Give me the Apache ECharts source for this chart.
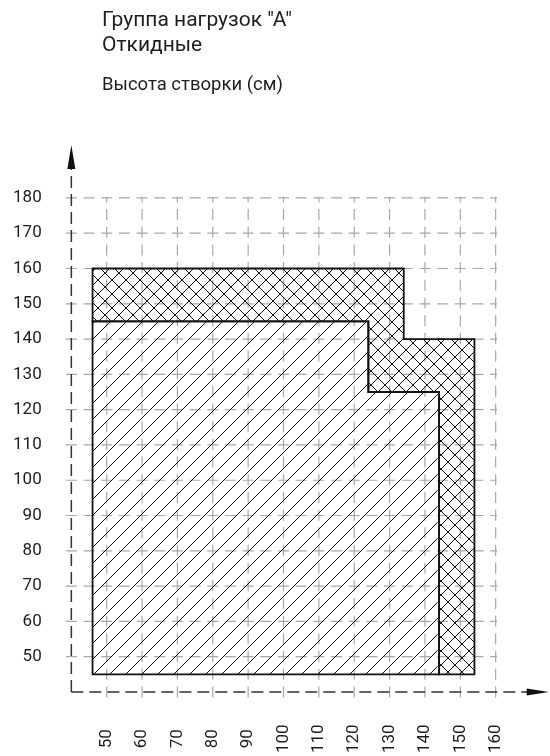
<!DOCTYPE html>
<html><head><meta charset="utf-8">
<script src="https://cdn.jsdelivr.net/npm/echarts@6/dist/echarts.min.js"></script>
<style>html,body{margin:0;padding:0;background:#fff}#c{width:550px;height:756px}</style>
</head><body><div id="c"></div>
<script>
// ---- data ----
const titleLines = ['Группа нагрузок "A"', 'Откидные'];
const yAxisName = 'Высота створки (см)';
const xTicks = [50, 60, 70, 80, 90, 100, 110, 120, 130, 140, 150, 160];
const yTicks = [50, 60, 70, 80, 90, 100, 110, 120, 130, 140, 150, 160, 170, 180];
// hatched region (///) vertices
const hatchX = [46, 46, 124, 124, 144, 144];
const hatchY = [45, 145, 145, 125, 125, 45];
// cross-hatched region vertices
const crossX = [46, 46, 134, 134, 154, 154, 144, 144, 124, 124];
const crossY = [145, 160, 160, 140, 140, 45, 45, 125, 125, 145];
const axisOrigin = [40, 40];
const axisEnd = [175, 195];
const gridFrom = 38;

// ---- patterns ----
function makePattern(p, both) {
  const c = document.createElement('canvas');
  c.width = p; c.height = p;
  const g = c.getContext('2d');
  g.strokeStyle = '#111'; g.lineWidth = 1;
  g.beginPath();
  g.moveTo(-1, p + 1); g.lineTo(p + 1, -1);
  g.moveTo(-1, 1); g.lineTo(1, -1);
  g.moveTo(p - 1, p + 1); g.lineTo(p + 1, p - 1);
  if (both) {
    g.moveTo(-1, -1); g.lineTo(p + 1, p + 1);
    g.moveTo(p - 1, -1); g.lineTo(p + 1, 1);
    g.moveTo(-1, p - 1); g.lineTo(1, p + 1);
  }
  g.stroke();
  return { image: c, repeat: 'repeat' };
}
const hatchFill = makePattern(16, false);
const crossFill = makePattern(14, true);

const chart = echarts.init(document.getElementById('c'), null, { renderer: 'canvas' });
const FONT = 'Roboto';
const TXT = '#1e1e1e';

function polySeries(xs, ys, fill, name) {
  return {
    type: 'custom', name, coordinateSystem: 'cartesian2d', z: 5,
    data: xs.map((x, i) => [x, ys[i]]),
    renderItem(params, api) {
      if (params.dataIndex !== 0) return null;
      const pts = xs.map((x, i) => api.coord([x, ys[i]]));
      return { type: 'polygon', shape: { points: pts },
        style: { fill: fill, stroke: '#111', lineWidth: 1.8 } };
    }
  };
}

const dashGrid = [11, 6.68];
chart.setOption({
  animation: false,
  title: {
    text: titleLines.join('\n'), subtext: yAxisName,
    left: 97, top: 3, itemGap: 18,
    textStyle: { fontFamily: FONT, fontSize: 21, lineHeight: 25, fontWeight: 'normal', color: TXT },
    subtextStyle: { fontFamily: FONT, fontSize: 18.5, color: TXT }
  },
  grid: { left: 57.2, right: 1.3, top: 145, bottom: 49.6 },
  xAxis: {
    type: 'value', min: 36, max: 175,
    axisLine: { show: false }, axisTick: { show: false }, splitLine: { show: false },
    axisLabel: { customValues: xTicks, rotate: 90, align: 'center', verticalAlign: 'middle', margin: 32.6,
      fontFamily: FONT, fontSize: 17, color: TXT }
  },
  yAxis: {
    type: 'value', min: 36, max: 195,
    axisLine: { show: false }, axisTick: { show: false }, splitLine: { show: false },
    axisLabel: { customValues: yTicks, margin: 15.5, fontFamily: FONT, fontSize: 17, color: TXT }
  },
  series: [
    {
      type: 'custom', name: 'vgrid', coordinateSystem: 'cartesian2d', z: 1,
      data: xTicks.map(v => [v, gridFrom]),
      renderItem(params, api) {
        const v = api.value(0);
        const a = api.coord([v, gridFrom]);
        const b = api.coord([v, yTicks[yTicks.length - 1] + 0.3]);
        return { type: 'line', shape: { x1: a[0], y1: a[1], x2: b[0], y2: b[1] },
          style: { stroke: '#a8a8a8', lineWidth: 1.2, lineDash: dashGrid, lineDashOffset: -1.57 } };
      }
    },
    {
      type: 'custom', name: 'hgrid', coordinateSystem: 'cartesian2d', z: 1,
      data: yTicks.map(v => [gridFrom, v]),
      renderItem(params, api) {
        const v = api.value(1);
        const a = api.coord([gridFrom, v]);
        const b = api.coord([xTicks[xTicks.length - 1] + 0.4, v]);
        return { type: 'line', shape: { x1: a[0], y1: a[1], x2: b[0], y2: b[1] },
          style: { stroke: '#a8a8a8', lineWidth: 1.2, lineDash: dashGrid, lineDashOffset: -1.57 } };
      }
    },
    polySeries(crossX, crossY, crossFill, 'cross'),
    polySeries(hatchX, hatchY, hatchFill, 'hatch'),
    {
      type: 'custom', name: 'axes', coordinateSystem: 'cartesian2d', z: 3,
      data: [axisOrigin],
      renderItem(params, api) {
        const o = api.coord(axisOrigin);
        const ex = api.coord([axisEnd[0], axisOrigin[1]]);
        const ey = api.coord([axisOrigin[0], axisEnd[1]]);
        const st = { stroke: '#333', lineWidth: 1.5, lineDash: [12, 6] };
        return { type: 'group', children: [
          { type: 'line', shape: { x1: o[0], y1: o[1], x2: ex[0] - 20, y2: ex[1] }, style: st },
          { type: 'line', shape: { x1: o[0], y1: o[1], x2: ey[0], y2: ey[1] + 22 }, style: st },
          { type: 'polygon', shape: { points: [[ex[0], ex[1]], [ex[0] - 22, ex[1] - 3.5], [ex[0] - 22, ex[1] + 3.5]] },
            style: { fill: '#111' } },
          { type: 'polygon', shape: { points: [[ey[0], ey[1]], [ey[0] - 4, ey[1] + 24], [ey[0] + 4, ey[1] + 24]] },
            style: { fill: '#111' } }
        ] };
      }
    }
  ]
});
</script>
</body></html>
